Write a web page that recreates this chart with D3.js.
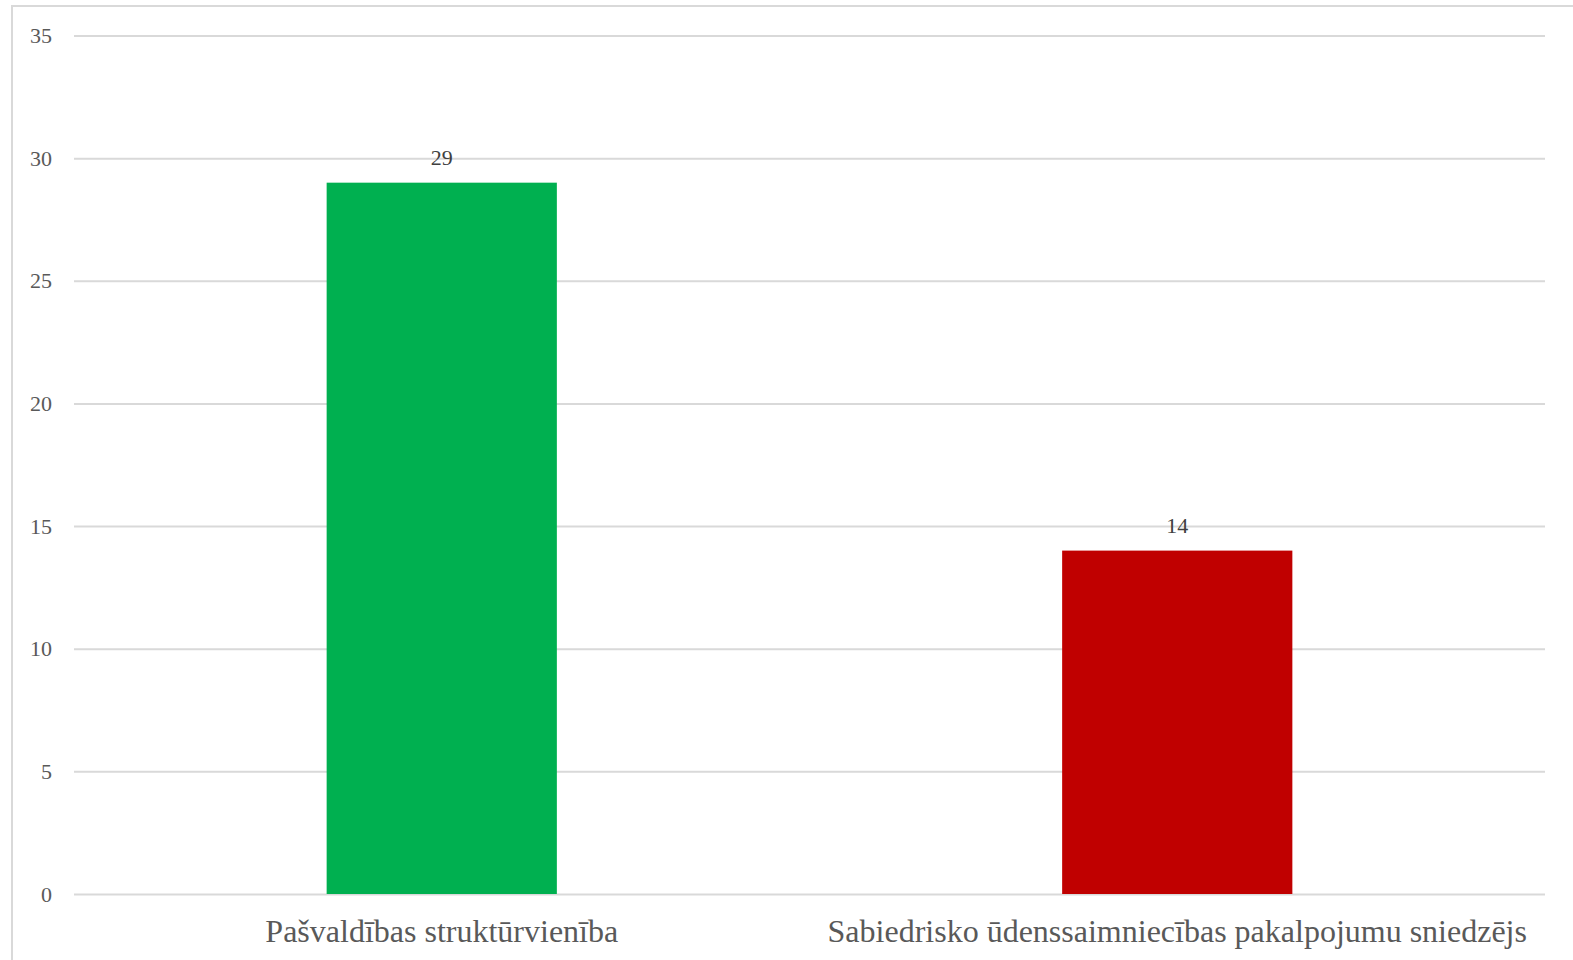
<!DOCTYPE html>
<html><head><meta charset="utf-8">
<script src="https://cdn.jsdelivr.net/npm/d3@7"></script>
<style>html,body{margin:0;padding:0;background:#fff;overflow:hidden}</style>
</head><body>
<svg id="chart" width="1573" height="960"></svg>
<script>
const categories = ["Pašvaldības struktūrvienība", "Sabiedrisko ūdenssaimniecības pakalpojumu sniedzējs"];
const values = [29, 14];
const barColors = ["#00B050", "#C00000"];
const yTicks = [0, 5, 10, 15, 20, 25, 30, 35];

(function () {
const svg = d3.select("#chart");
const mLeft = 74, mRight = 1545, mTop = 35.5, mBottom = 894;
const font = "'Liberation Serif','Times New Roman',serif";

svg.append("rect").attr("x", 12).attr("y", 6).attr("width", 1600).attr("height", 1000)
  .attr("fill", "#fff").attr("stroke", "#d9d9d9").attr("stroke-width", 2);

const x = d3.scaleBand().domain(categories).range([mLeft, mRight]).paddingInner(0.687).paddingOuter(0.3435);
const y = d3.scaleLinear().domain([0, 35]).range([mBottom, mTop]);

const yAxis = d3.axisLeft(y).tickValues(yTicks).tickSize(-(mRight - mLeft)).tickPadding(22);
const gy = svg.append("g").attr("transform", `translate(${mLeft},0)`).call(yAxis);
gy.select(".domain").remove();
gy.selectAll(".tick line").attr("stroke", "#d9d9d9").attr("stroke-width", 2);
gy.selectAll(".tick text").attr("fill", "#595959").attr("font-family", font).attr("font-size", 22);

svg.selectAll("rect.bar").data(values).enter().append("rect").attr("class", "bar")
  .attr("x", (d, i) => x(categories[i])).attr("width", x.bandwidth())
  .attr("y", d => y(d)).attr("height", d => y(0) - y(d))
  .attr("fill", (d, i) => barColors[i]);

svg.selectAll("text.lbl").data(values).enter().append("text").attr("class", "lbl")
  .attr("x", (d, i) => x(categories[i]) + x.bandwidth() / 2)
  .attr("y", d => y(d) - 17.5)
  .attr("text-anchor", "middle").attr("fill", "#404040")
  .attr("font-family", font).attr("font-size", 22).text(d => d);

const xAxis = d3.axisBottom(x).tickSize(0).tickPadding(25);
const gx = svg.append("g").attr("transform", `translate(0,${mBottom})`).call(xAxis);
gx.select(".domain").remove();
gx.selectAll(".tick text").attr("fill", "#595959").attr("font-family", font).attr("font-size", 32);
})();
</script>
</body></html>
